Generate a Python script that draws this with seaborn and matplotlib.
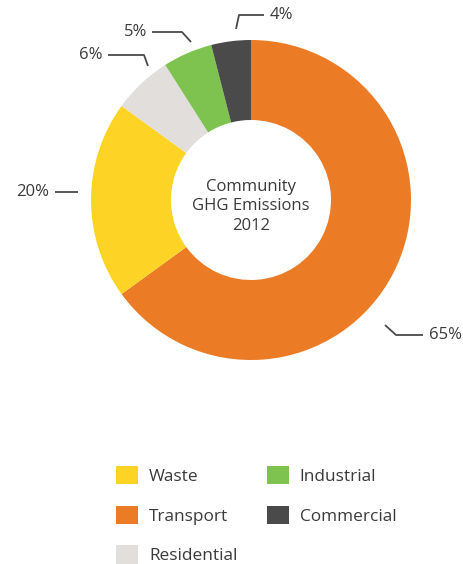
import matplotlib.pyplot as plt
import seaborn as sns
from matplotlib.patches import Patch

# data, clockwise from 12 o'clock
SECTORS = ["Transport", "Waste", "Residential", "Industrial", "Commercial"]
SHARES = [65, 20, 6, 5, 4]
COLORS = ["#EB7B25", "#FDD425", "#E2DEDC", "#7EC24F", "#4A4A4A"]
LEGEND_ORDER = ["Waste", "Transport", "Residential", "Industrial", "Commercial"]
CENTER_TITLE = "Community\nGHG Emissions\n2012"

W, H = 464, 564
CX, CY, R = 251, 200, 160

# leader line layout in pixels: (path points, label x, label alignment)
LEADERS = {
	"Transport": ([(385, 325), (396, 335), (423, 335)], 429, "left"),
	"Waste": ([(78, 192), (55, 192)], 49, "right"),
	"Residential": ([(148, 66), (144, 55), (108, 55)], 102, "right"),
	"Industrial": ([(191, 42), (182, 32), (152, 32)], 147, "right"),
	"Commercial": ([(236, 29), (239, 15), (264, 15)], 270, "left"),
}


def px_to_data(px: float, py: float) -> tuple[float, float]:
	return (px - CX) / R, (CY - py) / R


def main() -> None:
	sns.set_theme(style="white")
	plt.rcParams["font.family"] = ["Open Sans", "DejaVu Sans"]
	text_color = "#3a3a3a"

	fig = plt.figure(figsize=(W / 100, H / 100), dpi=100)
	ax = fig.add_axes([0, 0, 1, 1])
	ax.set_axis_off()

	ax.pie(
		SHARES,
		colors=COLORS,
		startangle=90,
		counterclock=False,
		radius=1.0,
		wedgeprops=dict(width=0.5, linewidth=0),
	)
	ax.set_xlim(px_to_data(0, 0)[0], px_to_data(W, 0)[0])
	ax.set_ylim(px_to_data(0, H)[1], px_to_data(0, 0)[1])
	ax.set_aspect("auto")

	ax.text(0, -0.04, CENTER_TITLE, ha="center", va="center", fontsize=12,
		color=text_color, linespacing=1.3)

	for name, share in zip(SECTORS, SHARES):
		points, label_x, align = LEADERS[name]
		xs, ys = zip(*[px_to_data(px, py) for px, py in points])
		ax.plot(xs, ys, color="#4a4a4a", linewidth=1.3, solid_capstyle="butt")
		lx, ly = px_to_data(label_x, points[-1][1])
		ax.text(lx, ly, f"{share}%", ha=align, va="center", fontsize=12, color=text_color)

	color_map = dict(zip(SECTORS, COLORS))
	handles = [Patch(facecolor=color_map[n], edgecolor="none", label=n) for n in LEGEND_ORDER]
	leg = fig.legend(
		handles=handles,
		ncol=2,
		loc="upper left",
		bbox_to_anchor=(116 / W, 1 - 466 / H),
		frameon=False,
		fontsize=12.4,
		handlelength=1.27,
		handleheight=1.27,
		handletextpad=0.65,
		labelspacing=1.2,
		columnspacing=1.7,
		borderpad=0,
		borderaxespad=0,
	)
	for t in leg.get_texts():
		t.set_color(text_color)

	fig.savefig("out.png", dpi=100)
	plt.close(fig)


if __name__ == "__main__":
	main()
